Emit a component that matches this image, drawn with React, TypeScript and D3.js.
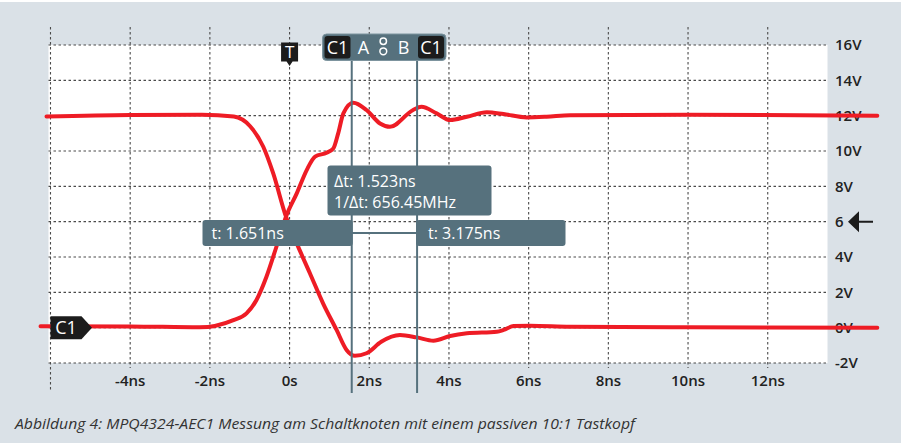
import * as d3 from 'd3'

// time in ns, voltage in V
const fallTime = [-6.1, -4, -2.2, -1.4, -0.99, -0.66, -0.41, -0.09, 0.18, 0.51, 0.84, 1.18, 1.43, 1.64, 1.93, 2.3, 2.77, 3.19, 3.61, 4.03, 4.45, 5.2, 5.37, 5.62, 6.04, 7.04, 10, 14.75]
const fallVolt = [11.95, 12.04, 12.05, 11.95, 11.4, 10.24, 8.73, 6.28, 4.77, 3.08, 1.38, -0.13, -1.26, -1.59, -1.45, -0.8, -0.42, -0.55, -0.74, -0.47, -0.32, -0.23, -0.13, 0.09, 0.11, 0.05, 0.02, 0.0]

const riseTime = [-6.25, -4, -2.26, -1.41, -1.08, -0.83, -0.58, -0.33, -0.09, 0.18, 0.43, 0.64, 0.93, 1.1, 1.22, 1.35, 1.6, 1.93, 2.27, 2.52, 3.1, 3.31, 3.69, 4.03, 4.45, 4.95, 5.37, 5.95, 6.45, 7.04, 10, 14.75]
const riseVolt = [0.08, 0.07, 0.02, 0.43, 0.81, 1.57, 2.88, 4.58, 6.28, 7.6, 8.92, 9.68, 9.9, 10.15, 11.0, 12.13, 12.73, 12.32, 11.56, 11.37, 12.32, 12.5, 12.13, 11.75, 11.94, 12.19, 12.09, 11.9, 11.94, 12.03, 12.05, 12.0]

const xGridValues = [-6, -4, -2, 0, 2, 4, 6, 8, 10, 12]
const xTickValues = [-4, -2, 0, 2, 4, 6, 8, 10, 12]
const xTickLabels = ['-4ns', '-2ns', '0s', '2ns', '4ns', '6ns', '8ns', '10ns', '12ns']
const yTickValues = [-2, 0, 2, 4, 6, 8, 10, 12, 14, 16]
const yTickLabels = ['-2V', '0V', '2V', '4V', '6', '8V', '10V', '12V', '14V', '16V']

const cursorA = 1.56
const cursorB = 3.2
const cursorTexts = ['t: 1.651ns', 't: 3.175ns']
const deltaTexts = ['Δt: 1.523ns', '1/Δt: 656.45MHz']
const caption = 'Abbildung 4: MPQ4324-AEC1 Messung am Schaltknoten mit einem passiven 10:1 Tastkopf'

const W = 901
const H = 443
const FONT = '"Open Sans", "Noto Sans", sans-serif'
const SLATE = '#56717d'
const RED = '#ee1c25'
const DARK = '#1c1c1c'

const App = () => {
  const x = d3.scaleLinear().domain([-6.05, 13.5]).range([48.5, 827.5])
  const y = d3.scaleLinear().domain([-2, 16]).range([363, 45])

  const line = d3.line<[number, number]>()
    .x(d => x(d[0]))
    .y(d => y(d[1]))
    .curve(d3.curveMonotoneX)

  const fall = fallTime.map((t, i) => [t, fallVolt[i]] as [number, number])
  const rise = riseTime.map((t, i) => [t, riseVolt[i]] as [number, number])

  const left = x.range()[0]
  const right = x.range()[1]
  const top = y(16)
  const bottom = y(-2)
  const xa = x(cursorA)
  const xb = x(cursorB)
  const y6 = y(6)
  const y0 = y(0)
  const x0 = x(0)

  return (
    <svg width={W} height={H} style={{ position: 'absolute', left: 0, top: 0, display: 'block' }} fontFamily={FONT}>
      <rect width={W} height={H} fill="#dae1e7" />
      <rect x={0} y={0} width={W} height={2} fill="#fff" />
      <rect x={left} y={top} width={right - left} height={bottom - top} fill="#fff" />

      {/* grid */}
      {yTickValues.map(v => (
        <line key={'h' + v} x1={left} x2={right} y1={y(v)} y2={y(v)} stroke="#4a4a4a" strokeWidth={1.1} strokeDasharray="2.5,2.5" />
      ))}
      {xGridValues.map(v => (
        <line key={'v' + v} x1={x(v)} x2={x(v)} y1={27} y2={v === -6 ? 392 : 368} stroke="#4a4a4a" strokeWidth={1.1} strokeDasharray="2.5,2.5" />
      ))}

      {/* axis labels */}
      {xTickValues.map((v, i) => (
        <text key={'xl' + v} x={x(v)} y={381} dy="0.35em" textAnchor="middle" fontSize={15} fontWeight={600} fill="#222">{xTickLabels[i]}</text>
      ))}
      {yTickValues.map((v, i) => (
        <text key={'yl' + v} x={835} y={y(v)} dy="0.35em" fontSize={15} fontWeight={600} fill="#222">{yTickLabels[i]}</text>
      ))}
      <path d={`M848,${y6} L859,${y6 - 10.5} L859,${y6 - 1} L873,${y6 - 1} L873,${y6 + 1} L859,${y6 + 1} L859,${y6 + 10.5} Z`} fill={DARK} />

      {/* traces */}
      <path d={line(rise) ?? ''} fill="none" stroke={RED} strokeWidth={4} strokeLinecap="round" strokeLinejoin="round" />
      <path d={line(fall) ?? ''} fill="none" stroke={RED} strokeWidth={4} strokeLinecap="round" strokeLinejoin="round" />

      {/* channel marker */}
      <path d={`M${left + 2},${y0 - 11.5} L81.5,${y0 - 11.5} L92,${y0} L81.5,${y0 + 11.5} L${left + 2},${y0 + 11.5} Z`} fill={DARK} />
      <text x={66} y={y0} dy="0.36em" textAnchor="middle" fontSize={18} fill="#fff">C1</text>

      {/* trigger marker */}
      <path d={`M${x0 - 8.5},42.5 L${x0 + 8.5},42.5 L${x0 + 8.5},61.5 L${x0 + 3},61.5 L${x0},66 L${x0 - 3},61.5 L${x0 - 8.5},61.5 Z`} fill={DARK} />
      <text x={x0} y={52} dy="0.36em" textAnchor="middle" fontSize={17} fill="#fff">T</text>

      {/* cursors */}
      <line x1={xa} x2={xa} y1={58} y2={393} stroke={SLATE} strokeWidth={2} />
      <line x1={xb} x2={xb} y1={58} y2={393} stroke={SLATE} strokeWidth={2} />
      <rect x={322.5} y={34} width={123.5} height={26.5} rx={4} fill={SLATE} stroke="#7d949e" strokeWidth={1} />
      <rect x={324.5} y={36} width={26} height={22.5} rx={3} fill={DARK} />
      <rect x={418} y={36} width={26} height={22.5} rx={3} fill={DARK} />
      <text x={337.5} y={47.5} dy="0.36em" textAnchor="middle" fontSize={18} fill="#fff">C1</text>
      <text x={431} y={47.5} dy="0.36em" textAnchor="middle" fontSize={18} fill="#fff">C1</text>
      <text x={363.5} y={47.5} dy="0.36em" textAnchor="middle" fontSize={18} fill="#fff">A</text>
      <text x={403.5} y={47.5} dy="0.36em" textAnchor="middle" fontSize={18} fill="#fff">B</text>
      <circle cx={383.3} cy={41.3} r={3.2} fill="none" stroke="#fff" strokeWidth={1.5} />
      <circle cx={383.3} cy={51.3} r={3.4} fill="none" stroke="#fff" strokeWidth={1.5} />

      {/* readouts */}
      <line x1={xa} x2={xb} y1={233} y2={233} stroke={SLATE} strokeWidth={2} />
      <rect x={202.5} y={220} width={xa - 202.5 + 1} height={26} rx={3} fill={SLATE} />
      <rect x={xb - 1} y={220} width={565.5 - xb + 1} height={26} rx={3} fill={SLATE} />
      <text x={211.5} y={233} dy="0.35em" fontSize={16} fill="#fff">{cursorTexts[0]}</text>
      <text x={428} y={233} dy="0.35em" fontSize={16} fill="#fff">{cursorTexts[1]}</text>
      <rect x={327.5} y={165.5} width={164} height={50} rx={3} fill={SLATE} />
      <text x={334} y={181} dy="0.35em" fontSize={16} fill="#fff">{deltaTexts[0]}</text>
      <text x={334} y={202} dy="0.35em" fontSize={16} fill="#fff">{deltaTexts[1]}</text>

      {/* caption */}
      <text x={15} y={424} dy="0.35em" fontSize={15} fontStyle="italic" fill="#333" textLength={620} lengthAdjust="spacingAndGlyphs">{caption}</text>
    </svg>
  )
}

export default App
